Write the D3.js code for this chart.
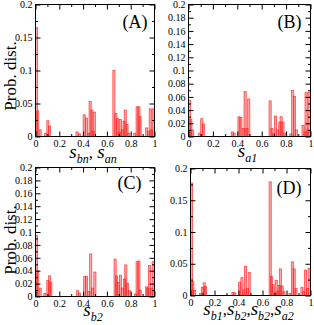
<!DOCTYPE html>
<html>
<head>
<meta charset="utf-8">
<script src="https://cdn.jsdelivr.net/npm/d3@7"></script>
<style>
body{margin:0;background:#fff}
svg text{font-family:"Liberation Serif","Times New Roman",serif}
</style>
</head>
<body>
<svg id="fig" width="314" height="325"></svg>
<script>
// bin left edges and probabilities
var posA  = [0,0.01,0.03,0.075,0.095,0.11,0.34,0.36,0.40,0.42,0.44,0.45,0.465,0.475,0.485,0.65,0.667,0.68,0.70,0.705,0.72,0.735,0.745,0.76,0.775,0.825,0.845,0.86,0.87,0.925,0.94,0.955,0.965,0.98]
var probA = [0.165,0.039,0.01,0.005,0.024,0.016,0.007,0.004,0.033,0.028,0.005,0.053,0.04,0.008,0.037,0.1,0.035,0.027,0.006,0.026,0.01,0.023,0.04,0.018,0.005,0.005,0.045,0.045,0.03,0.013,0.008,0.042,0.01,0.042]

var posB  = [0,0.01,0.025,0.08,0.10,0.115,0.35,0.365,0.405,0.42,0.44,0.455,0.47,0.485,0.66,0.675,0.69,0.705,0.72,0.74,0.75,0.765,0.78,0.83,0.845,0.86,0.875,0.93,0.945,0.955,0.97,0.98]
var probB = [0.055,0.026,0.01,0.005,0.027,0.019,0.007,0.005,0.03,0.029,0.012,0.068,0.012,0.057,0.054,0.012,0.005,0.031,0.01,0.022,0.03,0.022,0.005,0.004,0.07,0.061,0.01,0.017,0.007,0.067,0.01,0.067]

var posC  = [0,0.01,0.03,0.07,0.095,0.11,0.12,0.345,0.36,0.405,0.42,0.44,0.455,0.47,0.49,0.66,0.672,0.685,0.705,0.72,0.74,0.75,0.765,0.78,0.83,0.845,0.86,0.87,0.925,0.935,0.95,0.965,0.98]
var probC = [0.095,0.04,0.013,0.005,0.025,0.032,0.022,0.009,0.005,0.031,0.031,0.008,0.066,0.013,0.038,0.058,0.032,0.022,0.033,0.013,0.027,0.049,0.02,0.009,0.004,0.054,0.055,0.01,0.015,0.013,0.048,0.013,0.054]

var posD  = [0,0.01,0.025,0.075,0.09,0.105,0.115,0.345,0.36,0.40,0.42,0.435,0.45,0.465,0.48,0.655,0.665,0.68,0.695,0.705,0.72,0.73,0.74,0.755,0.77,0.82,0.84,0.855,0.87,0.92,0.935,0.95,0.965,0.98]
var probD = [0.177,0.022,0.008,0.003,0.013,0.02,0.014,0.005,0.004,0.021,0.028,0.009,0.046,0.011,0.036,0.179,0.03,0.017,0.004,0.024,0.007,0.016,0.042,0.015,0.006,0.003,0.053,0.042,0.011,0.013,0.006,0.04,0.011,0.043]

var xMajor = [0,0.2,0.4,0.6,0.8,1]
var xMinor = [0.1,0.3,0.5,0.7,0.9]
var yMajorWide = [0,0.05,0.1,0.15,0.2]
var yMinorWide = [0.025,0.075,0.125,0.175]
var yMajorFine = [0,0.02,0.04,0.06,0.08,0.1,0.12,0.14,0.16,0.18,0.2]
var yMinorFine = [0.01,0.03,0.05,0.07,0.09,0.11,0.13,0.15,0.17,0.19]

var panelNames = ["(A)","(B)","(C)","(D)"]

var binWidth = 0.018
var serif = "Liberation Serif, Times New Roman, serif"

var svg = d3.select("#fig")

//parts: strings are plain text, pairs are [symbol, subscript]
var drawLabel = function(x, y, parts)
{
    var t = svg.append("text")
        .attr("x", x).attr("y", y)
        .attr("text-anchor", "middle")
        .attr("font-family", serif)
        .style("font-style", "italic")
    var shift = 0
    parts.forEach(function(p)
    {
        if (typeof p === "string") {
            t.append("tspan").text(p).attr("dy", -shift)
             .style("font-size", "17px").style("font-style","normal")
            shift = 0
        } else {
            t.append("tspan").text(p[0]).attr("dy", -shift).style("font-size", "19px")
            t.append("tspan").text(p[1]).attr("dy", 5).style("font-size", "12px")
            shift = 5
        }
    })
}

var drawPanel = function(box, pos, prob, yMajor, yMinor, name, namePos, xlabel, xlabelY, ylabelY)
{
    var xScale = d3.scaleLinear().domain([0,1]).range([box.left, box.right])
    var yScale = d3.scaleLinear().domain([0,0.2]).range([box.bottom, box.top])
    var g = svg.append("g")

    // bars
    g.selectAll("rect.bar")
     .data(pos.map(function(p,i){ return {x:p, v:prob[i]} }))
     .enter()
     .append("rect")
     .attr("class","bar")
     .attr("x", function(d){ return xScale(d.x) })
     .attr("width", function(d){ return xScale(d.x+binWidth)-xScale(d.x) })
     .attr("y", function(d){ return yScale(d.v) })
     .attr("height", function(d){ return yScale(0)-yScale(d.v) })
     .attr("fill", "#ff0000")
     .attr("fill-opacity", 0.35)
     .attr("stroke", "#ff2020")
     .attr("stroke-width", 0.7)
     .attr("stroke-opacity", 0.85)

    var fmt = d3.format("~g")
    var addAxis = function(axis, tx, ty, vals, size, labels)
    {
        var a = axis.tickValues(vals).tickSize(-size).tickSizeOuter(0).tickPadding(labels ? 3 : 0)
        var ag = g.append("g")
                  .attr("transform","translate("+tx+","+ty+")")
                  .call(a)
                  .attr("font-family", serif)
                  .attr("font-size", 10)
        ag.select(".domain").remove()
        if (labels) ag.selectAll("text").text(fmt)
        else ag.selectAll("text").remove()
    }
    addAxis(d3.axisBottom(xScale), 0, box.bottom, xMajor, 5, true)
    addAxis(d3.axisBottom(xScale), 0, box.bottom, xMinor, 2.5, false)
    addAxis(d3.axisTop(xScale), 0, box.top, xMajor, 5, false)
    addAxis(d3.axisTop(xScale), 0, box.top, xMinor, 2.5, false)
    addAxis(d3.axisLeft(yScale), box.left, 0, yMajor, 5, true)
    addAxis(d3.axisLeft(yScale), box.left, 0, yMinor, 2.5, false)
    addAxis(d3.axisRight(yScale), box.right, 0, yMajor, 5, false)
    addAxis(d3.axisRight(yScale), box.right, 0, yMinor, 2.5, false)

    // frame
    g.append("rect")
     .attr("x", box.left).attr("y", box.top)
     .attr("width", box.right-box.left).attr("height", box.bottom-box.top)
     .attr("fill","none").attr("stroke","black").attr("stroke-width",1)

    g.append("text")
     .text(name)
     .attr("text-anchor","end")
     .attr("font-family", serif)
     .attr("x", box.right-namePos[0])
     .attr("y", box.top+namePos[1])
     .style("font-size","18px")

    drawLabel((box.left+box.right)/2 - 2, xlabelY, xlabel)

    if (ylabelY) {
        g.append("text")
         .text("Prob. dist.")
         .attr("text-anchor","middle")
         .attr("font-family", serif)
         .attr("transform","translate(16,"+ylabelY+") rotate(-90)")
         .style("font-size","17px")
    }
}

drawPanel({left:35.5,right:154.5,top:4.5,bottom:136.5}, posA, probA, yMajorWide, yMinorWide,
          panelNames[0], [7,23], [["s","bn"],",\u00a0",["s","an"]], 158, 76)
drawPanel({left:188.5,right:310.5,top:4.5,bottom:136.5}, posB, probB, yMajorFine, yMinorFine,
          panelNames[1], [9,23], [["s","a1"]], 157, null)
drawPanel({left:35.5,right:154.5,top:167.5,bottom:296.5}, posC, probC, yMajorFine, yMinorFine,
          panelNames[2], [13,21], [["s","b2"]], 316, 240)
drawPanel({left:190.5,right:310.5,top:168.5,bottom:295.5}, posD, probD, yMajorWide, yMinorWide,
          panelNames[3], [9,25], [["s","b1"],",",["s","b2"],",",["s","b2"],",",["s","a2"]], 315, null)
</script>
</body>
</html>
